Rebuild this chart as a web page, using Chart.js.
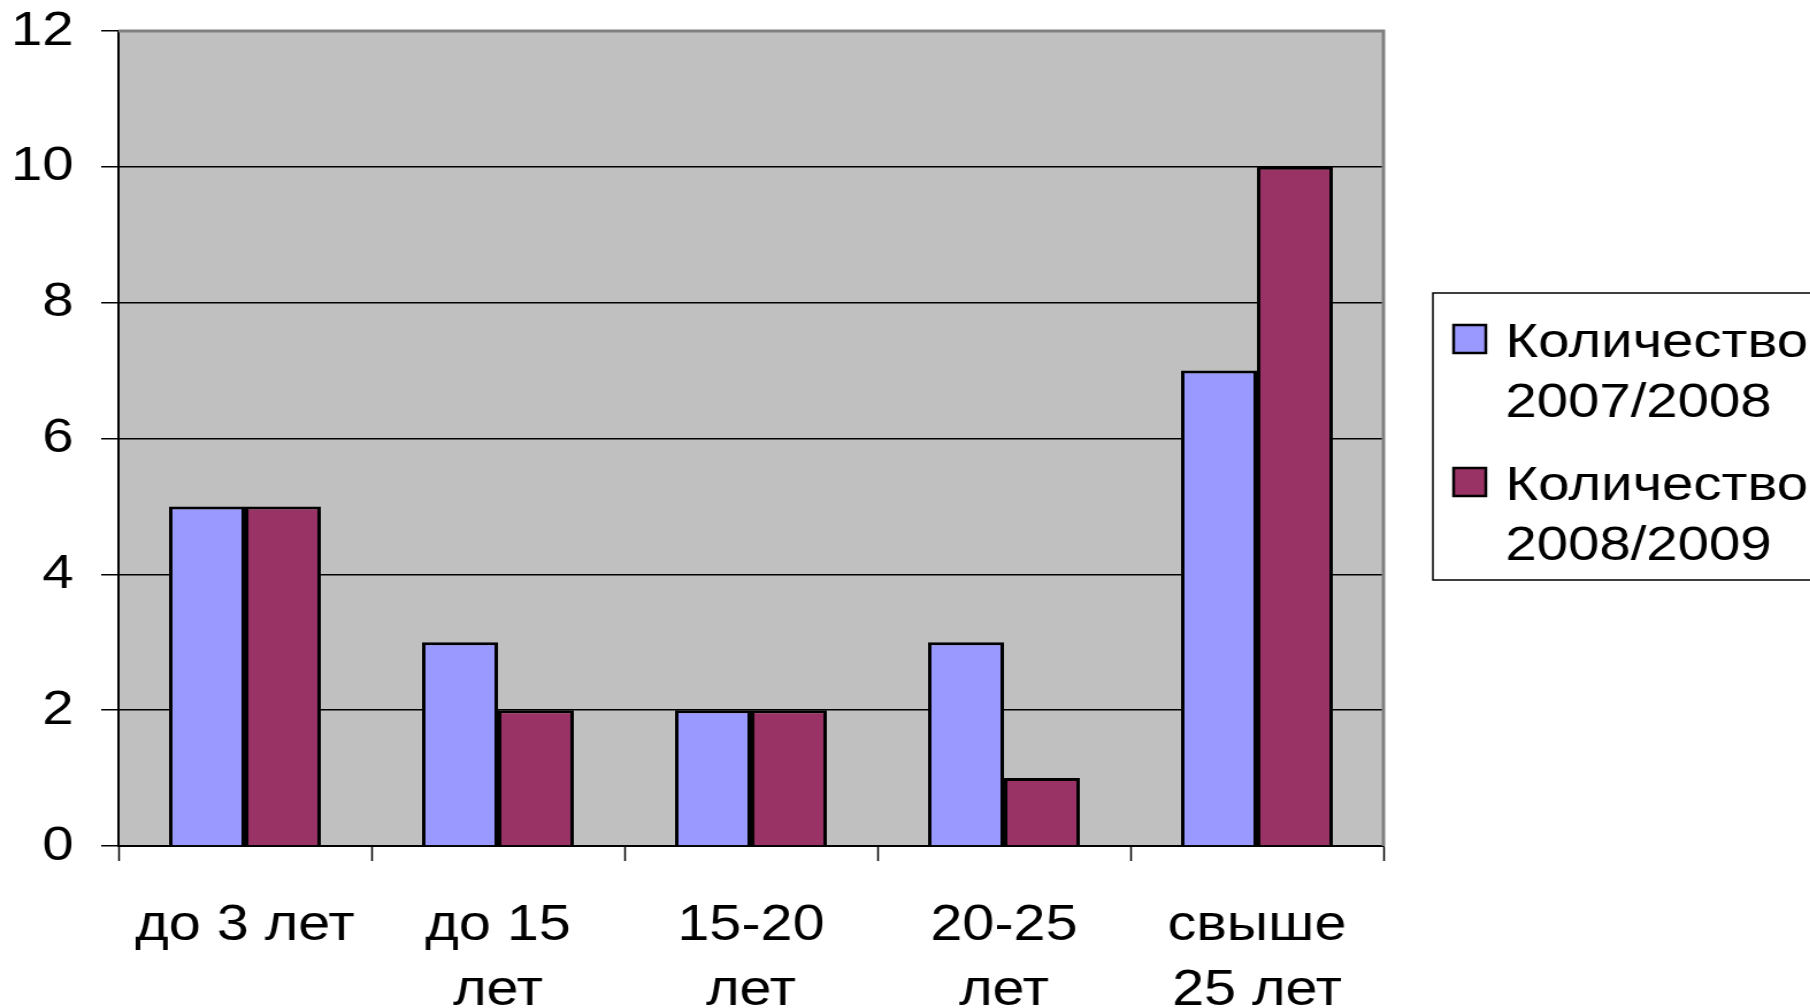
<!DOCTYPE html>
<html>
<head>
<meta charset="utf-8">
<script src="https://cdn.jsdelivr.net/npm/chart.js@4"></script>
<style>
  html, body { margin: 0; padding: 0; background: #fff; overflow: hidden; }
  #wrap { width: 1574px; height: 1008px; transform: scaleX(1.15); transform-origin: 0 0; }
</style>
</head>
<body>
<div id="wrap"><canvas id="c" width="1574" height="1008"></canvas></div>
<script>
const categories = [['до 3 лет'], ['до 15', 'лет'], ['15-20', 'лет'], ['20-25', 'лет'], ['свыше', '25 лет']];
const seriesNames = ['Количество 2007/2008', 'Количество 2008/2009'];
const values2007 = [5, 3, 2, 3, 7];
const values2008 = [5, 2, 2, 1, 10];
const seriesColors = ['#9999FF', '#993366'];
const yTicks = [0, 2, 4, 6, 8, 10, 12];

const FONT = '"Liberation Sans", Arial, sans-serif';

const plotDecor = {
  id: 'plotDecor',
  beforeDraw(chart) {
    const { ctx, chartArea: a } = chart;
    ctx.save();
    ctx.fillStyle = '#C0C0C0';
    ctx.fillRect(a.left, a.top, a.right - a.left, a.bottom - a.top);
    ctx.restore();
  },
  afterDatasetsDraw(chart) {
    const { ctx, chartArea: a } = chart;
    ctx.save();
    ctx.strokeStyle = '#808080';
    ctx.lineWidth = 3;
    ctx.beginPath();
    ctx.moveTo(a.left, a.top);
    ctx.lineTo(a.right, a.top);
    ctx.lineTo(a.right, a.bottom);
    ctx.stroke();
    ctx.restore();
  }
};

const customLegend = {
  id: 'customLegend',
  afterDraw(chart) {
    const { ctx } = chart;
    const boxL = 1246, boxT = 293, boxB = 580;
    ctx.save();
    ctx.fillStyle = '#fff';
    ctx.fillRect(boxL, boxT, chart.width - boxL + 10, boxB - boxT);
    ctx.strokeStyle = '#000';
    ctx.lineWidth = 1.5;
    ctx.strokeRect(boxL, boxT, chart.width - boxL + 10, boxB - boxT);
    ctx.font = '49px ' + FONT;
    ctx.textBaseline = 'alphabetic';
    ctx.textAlign = 'left';
    chart.data.datasets.forEach((ds, i) => {
      const base = 357 + i * 143;
      ctx.fillStyle = ds.backgroundColor;
      ctx.fillRect(1264, base - 32, 28, 28);
      ctx.strokeStyle = '#000';
      ctx.lineWidth = 2.5;
      ctx.strokeRect(1264, base - 32, 28, 28);
      ctx.fillStyle = '#000';
      const parts = ds.label.split(' ');
      parts.forEach((p, j) => ctx.fillText(p, 1309, base + j * 60));
    });
    ctx.restore();
  }
};

new Chart(document.getElementById('c'), {
  type: 'bar',
  data: {
    labels: categories,
    datasets: [
      { label: seriesNames[0], data: values2007, backgroundColor: seriesColors[0], borderColor: '#000', borderWidth: 3, borderSkipped: 'start' },
      { label: seriesNames[1], data: values2008, backgroundColor: seriesColors[1], borderColor: '#000', borderWidth: 3, borderSkipped: 'start' }
    ]
  },
  options: {
    responsive: false,
    animation: false,
    devicePixelRatio: 1,
    layout: { padding: { top: 31, right: 371, left: 0, bottom: 0 } },
    datasets: { bar: { categoryPercentage: 0.6, barPercentage: 1.0 } },
    plugins: { legend: { display: false }, tooltip: { enabled: false }, title: { display: false } },
    scales: {
      x: {
        offset: true,
        afterFit(s) { s.height = 162; },
        grid: { offset: true, drawOnChartArea: false, drawTicks: true, tickLength: 15, tickColor: '#000', tickWidth: 1.5 },
        border: { display: true, color: '#000', width: 2 },
        ticks: { color: '#000', padding: 33, font: { family: FONT, size: 50, lineHeight: 1.3 }, maxRotation: 0, autoSkip: false }
      },
      y: {
        min: 0, max: 12,
        afterFit(s) { s.width = 103; s.paddingTop = 0; s.paddingBottom = 0; },
        afterBuildTicks(s) { s.ticks = yTicks.map(v => ({ value: v })); },
        grid: {
          color: (c) => (c.tick && c.tick.value === 12) ? 'rgba(0,0,0,0)' : '#000',
          lineWidth: 1.5, tickLength: 15, tickColor: '#000', tickWidth: 1.5
        },
        border: { display: true, color: '#000', width: 2 },
        ticks: { color: '#000', padding: 24, font: { family: FONT, size: 49 } }
      }
    }
  },
  plugins: [plotDecor, customLegend]
});
</script>
</body>
</html>
